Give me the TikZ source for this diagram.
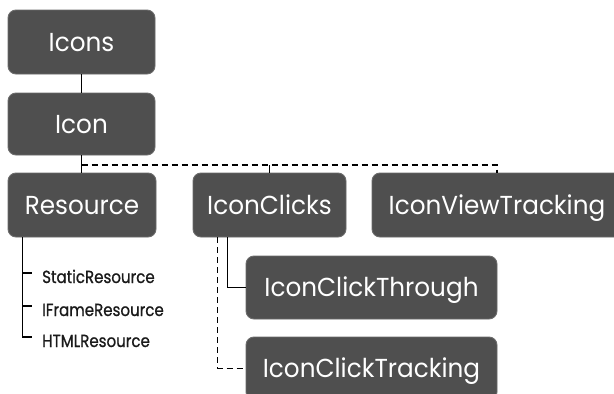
\documentclass[tikz,border=0pt]{standalone}
\usepackage{fontspec}
\setmainfont{Poppins}
\newfontfamily\bigf[FakeStretch=0.95]{Poppins}
\newfontfamily\smf[FakeStretch=0.86,FakeBold=0.8]{Poppins}
\definecolor{boxfill}{HTML}{4F4F4F}
\definecolor{boxline}{HTML}{6B6B6B}
\definecolor{leaftext}{HTML}{1A1A1A}
\begin{document}
\begin{tikzpicture}[x=1pt,y=-1pt,
  cbox/.style={draw=boxline, line width=0.9pt, fill=boxfill, rounded corners=8pt,
    text=white, font=\bigf\fontsize{26}{30}\selectfont, text height=18.5pt,
    text depth=0pt, inner sep=0pt, minimum height=63pt},
  conn/.style={line width=1.4pt, draw=black},
  dconn/.style={conn, dash pattern=on 6pt off 4pt},
  leaf/.style={font=\smf\fontsize{17.5}{20}\selectfont, text=leaftext, anchor=west,
    inner sep=0pt, text height=20pt, text depth=0pt}]
\clip (0,0) rectangle (614,394);
\useasboundingbox (0,0) rectangle (614,394);
\fill[white] (0,0) rectangle (614,394);

\node[cbox, minimum width=147pt, minimum height=64pt] (icons) at (81.5,42) {Icons};
\node[cbox, minimum width=147pt, minimum height=62pt] (icon) at (81.5,124) {Icon};
\node[cbox, minimum width=148pt, minimum height=64pt] (res) at (82,205) {Resource};
\node[cbox, minimum width=153pt, minimum height=64pt] (clicks) at (269.5,205) {IconClicks};
\node[cbox, minimum width=250pt, minimum height=64pt] (view) at (497,205) {IconViewTracking};
\node[cbox, minimum width=251pt] (through) at (371.5,287.5) {IconClickThrough};
\node[cbox, minimum width=251pt] (track) at (371.5,368.5) {IconClickTracking};

\node[leaf] (sr) at (42,273) {StaticResource};
\node[leaf] (ifr) at (42,306) {IFrameResource};
\node[leaf] (hr) at (42,337) {HTMLResource};

\coordinate (bus) at (82,165);
\draw[conn] (icons.south) -- (icon.north);
\draw[conn] (icon.south) -- (icon.south |- res.north);
\draw[dconn] (icon.south |- bus) -| (view.north);
\draw[conn] (clicks.north |- bus) -- (clicks.north);

\coordinate (rtop) at ([xshift=15pt]res.south west);
\draw[conn] (rtop) |- ([xshift=-10pt]hr.west);
\draw[conn] (rtop |- sr.west) -- ([xshift=-10pt]sr.west);
\draw[conn] (rtop |- ifr.west) -- ([xshift=-10pt]ifr.west);

\draw[conn] ([xshift=35pt]clicks.south west) |- (through.west);
\draw[dconn] ([xshift=25pt]clicks.south west) |- (track.west);
\end{tikzpicture}
\end{document}
